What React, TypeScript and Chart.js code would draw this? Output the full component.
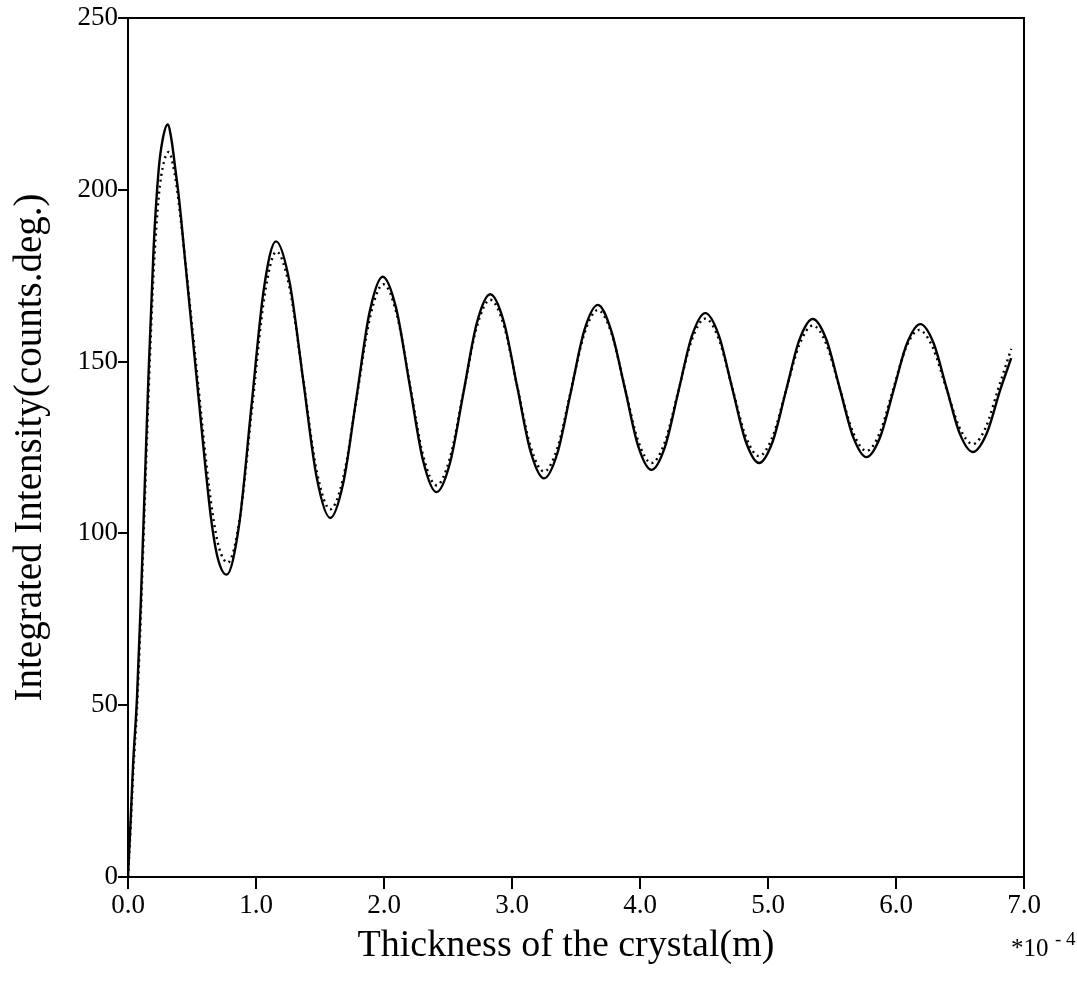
import React, { useEffect, useRef } from "react";
import { Chart, registerables } from "chart.js";

Chart.register(...registerables);

// Thickness of the crystal (units of 1e-4 m) and integrated intensity
const solidX = [
  0, 0.02, 0.04, 0.07, 0.1, 0.13, 0.16, 0.2, 0.24, 0.27, 0.31, 0.34, 0.37, 0.4, 0.45, 0.5, 0.55, 0.6, 0.65, 0.7, 0.77,
  0.867, 0.963, 1.06, 1.156, 1.262, 1.368, 1.474, 1.58, 1.6825, 1.785, 1.8875, 1.99, 2.095, 2.2, 2.305, 2.41,
  2.515, 2.62, 2.725, 2.83, 2.935, 3.04, 3.145, 3.25, 3.355, 3.46, 3.565, 3.67, 3.775, 3.88, 3.985, 4.09,
  4.195, 4.3, 4.405, 4.51, 4.615, 4.72, 4.825, 4.93, 5.035, 5.14, 5.245, 5.35, 5.455, 5.56, 5.665, 5.77,
  5.875, 5.98, 6.085, 6.19, 6.2925, 6.395, 6.4975, 6.6, 6.7075, 6.815, 6.9,
];
const solidY = [
  0, 16, 33, 52, 80, 113, 146, 183, 206, 214.5, 219, 214.5, 206, 197, 178, 159, 140, 121, 104, 93, 88,
  102.2, 136.5, 170.8, 185, 173.2, 144.75, 116.3, 104.5, 114.8, 139.6, 164.4, 174.7, 165.5, 143.35, 121.2, 112,
  120.4, 140.8, 161.2, 169.6, 161.75, 142.8, 123.85, 116, 123.4, 141.25, 159.1, 166.5, 159.0, 142.5, 125.5, 118.5,
  125.2, 141.3, 157.4, 164.1, 157.7, 142.3, 126.9, 120.5, 126.6, 141.45, 156.3, 162.4, 156.5, 142.3, 128.1, 122.2,
  127.9, 141.55, 155.2, 160.9, 155.5, 142.3, 129.1, 123.7, 129, 141.85, 151,
];

const dottedX = [
  0, 0.02, 0.04, 0.07, 0.1, 0.13, 0.16, 0.2, 0.24, 0.28, 0.32, 0.35, 0.38, 0.41, 0.46, 0.51, 0.56, 0.61, 0.66, 0.71, 0.78,
  0.875, 0.97, 1.065, 1.16, 1.265, 1.37, 1.475, 1.58, 1.684, 1.7875, 1.891, 1.995, 2.099, 2.2025, 2.306, 2.41,
  2.515, 2.62, 2.725, 2.83, 2.935, 3.04, 3.145, 3.25, 3.355, 3.46, 3.565, 3.67, 3.775, 3.88, 3.985, 4.09,
  4.195, 4.3, 4.405, 4.51, 4.615, 4.72, 4.825, 4.93, 5.035, 5.14, 5.245, 5.35, 5.455, 5.56, 5.665, 5.77,
  5.8725, 5.975, 6.0775, 6.18, 6.285, 6.39, 6.495, 6.6, 6.7, 6.8, 6.9,
];
const dottedY = [
  0, 14, 30, 49, 76, 108, 140, 176, 198, 208, 211, 207.5, 201, 192, 175, 157, 139, 121, 106, 96, 91.5,
  104.75, 136.75, 168.75, 182, 171.0, 144.5, 118.0, 107, 116.6, 139.75, 162.9, 172.5, 163.9, 143.25, 122.6, 114,
  121.9, 141, 160.1, 168, 160.7, 143, 125.3, 118, 124.9, 141.5, 158.1, 165, 158.5, 142.75, 127.0, 120.5,
  126.65, 141.5, 156.35, 162.5, 156.65, 142.5, 128.35, 122.5, 128.1, 141.5, 154.9, 160.5, 155.15, 142.25, 129.35, 124,
  129.2, 141.6, 154.0, 159.2, 154.3, 142.6, 130.9, 126, 130.75, 142.25, 153.7,
];

const xTitle = "Thickness of the crystal(m)";
const yTitle = "Integrated Intensity(counts.deg.)";
const xMultiplier = "*10";
const xExponent = "- 4";

const serif = "'Liberation Serif', 'Times New Roman', serif";

const framePlugin = {
  id: "frame",
  afterDraw(chart: any) {
    const { ctx, chartArea } = chart;
    ctx.save();
    ctx.strokeStyle = "#000";
    ctx.lineWidth = 2;
    ctx.beginPath();
    ctx.moveTo(chartArea.left, chartArea.top);
    ctx.lineTo(chartArea.right, chartArea.top);
    ctx.lineTo(chartArea.right, chartArea.bottom);
    ctx.stroke();
    ctx.fillStyle = "#000";
    // x-axis title
    ctx.textAlign = "center";
    ctx.textBaseline = "middle";
    ctx.font = `38px ${serif}`;
    ctx.fillText(xTitle, 566, 946);
    // multiplier
    ctx.textBaseline = "alphabetic";
    ctx.textAlign = "left";
    ctx.font = `25px ${serif}`;
    ctx.fillText(xMultiplier, 1011, 956);
    ctx.font = `19px ${serif}`;
    ctx.fillText(xExponent, 1055, 945);
    ctx.restore();
  },
};

export default function App() {
  const ref = useRef<HTMLCanvasElement | null>(null);
  useEffect(() => {
    if (!ref.current) return;
    const chart = new Chart(ref.current, {
      type: "line",
      data: {
        datasets: [
          {
            label: "solid",
            data: solidX.map((x, i) => ({ x, y: solidY[i] })),
            borderColor: "#000",
            borderWidth: 2.4,
            pointRadius: 0,
            fill: false,
            cubicInterpolationMode: "monotone",
          },
          {
            label: "dotted",
            data: dottedX.map((x, i) => ({ x, y: dottedY[i] })),
            borderColor: "#000",
            borderWidth: 2.4,
            borderDash: [2, 4],
            pointRadius: 0,
            fill: false,
            cubicInterpolationMode: "monotone",
          },
        ],
      },
      options: {
        animation: false,
        responsive: false,
        devicePixelRatio: 1,
        layout: { padding: { top: 18, right: 53, left: 0, bottom: 0 } },
        plugins: { legend: { display: false }, tooltip: { enabled: false } },
        scales: {
          x: {
            type: "linear",
            min: 0,
            max: 7,
            afterFit: (s: any) => {
              s.height = 106;
            },
            ticks: {
              stepSize: 1,
              color: "#000",
              font: { family: serif, size: 27 },
              padding: 1,
              maxRotation: 0,
              callback: (v: any) => Number(v).toFixed(1),
            },
            grid: { drawOnChartArea: false, drawTicks: true, tickLength: 12, color: "#000", lineWidth: 2 },
            border: { display: true, color: "#000", width: 2 },
            title: { display: false },
          },
          y: {
            type: "linear",
            min: 0,
            max: 250,
            afterFit: (s: any) => {
              s.width = 128;
            },
            ticks: {
              stepSize: 50,
              color: "#000",
              font: { family: serif, size: 27 },
              padding: 0,
            },
            grid: { drawOnChartArea: false, drawTicks: true, tickLength: 10, color: "#000", lineWidth: 2 },
            border: { display: true, color: "#000", width: 2 },
            title: {
              display: true,
              text: yTitle,
              color: "#000",
              font: { family: serif, size: 39 },
              padding: { top: 7, bottom: 0 },
            },
          },
        },
      },
      plugins: [framePlugin],
    } as any);
    return () => chart.destroy();
  }, []);
  return (
    <div style={{ position: "absolute", left: 0, top: 0, width: 1077, height: 983, background: "#fff" }}>
      <canvas ref={ref} width={1077} height={983} style={{ display: "block" }} />
    </div>
  );
}
